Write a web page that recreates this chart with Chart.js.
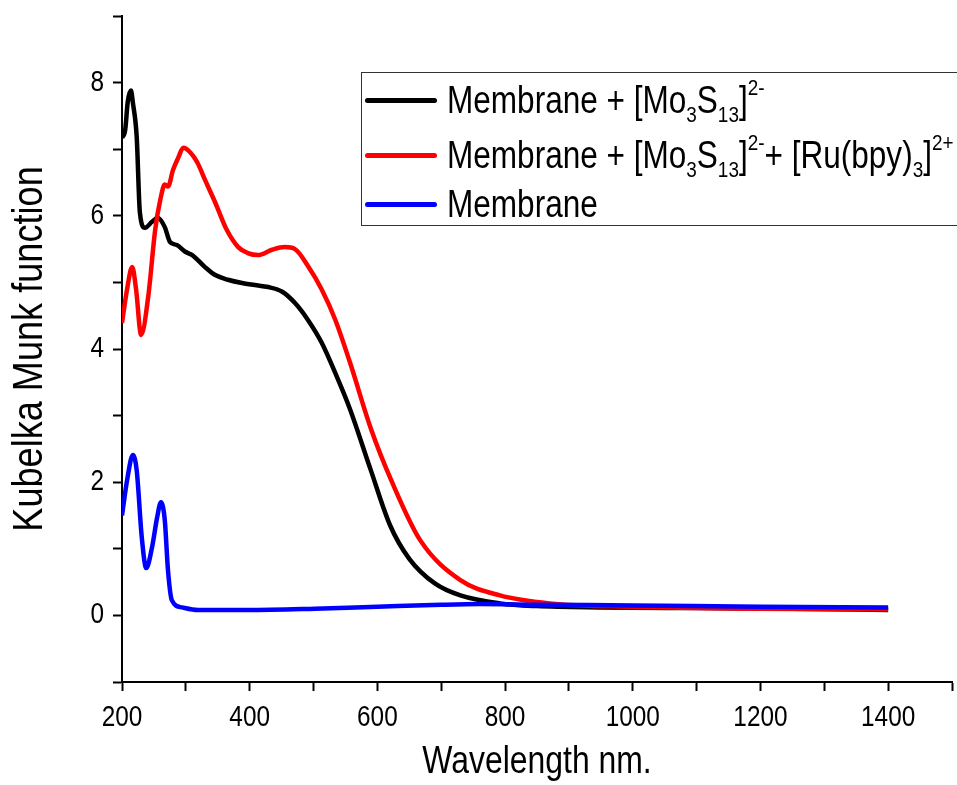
<!DOCTYPE html>
<html>
<head>
<meta charset="utf-8">
<script src="https://cdn.jsdelivr.net/npm/chart.js@4.4.1/dist/chart.umd.min.js"></script>
<style>
  html, body { margin: 0; padding: 0; background: #fff; overflow: hidden; }
  #wrap { position: relative; width: 957px; height: 785px; }
  #legend {
    position: absolute; left: 361px; top: 72px; width: 640px; height: 154px;
    border: 1.5px solid #333; box-sizing: border-box;
    font-family: 'Liberation Sans', Arial, sans-serif;
    font-size: 38px; color: #000;
  }
  .row { position: absolute; left: 0; height: 46px; line-height: 46px; white-space: nowrap; }
  .row .swatch { position: absolute; left: 3px; top: 21px; width: 72px; height: 5px; border-radius: 3px; }
  .row .txt { position: absolute; left: 85px; top: 0; transform: scaleX(0.83); transform-origin: 0 50%; }
  .txt sub { font-size: 60%; vertical-align: -0.38em; line-height: 0; }
  .txt sup { font-size: 60%; vertical-align: 0.8em; line-height: 0; }
</style>
</head>
<body>
<div id="wrap">
  <canvas id="graph" width="957" height="785"></canvas>
  <div id="legend">
    <div class="row" style="top:4px"><span class="swatch" style="background:#000"></span><span class="txt">Membrane + [Mo<sub>3</sub>S<sub>13</sub>]<sup>2-</sup></span></div>
    <div class="row" style="top:59px"><span class="swatch" style="background:#ff0000"></span><span class="txt">Membrane + [Mo<sub>3</sub>S<sub>13</sub>]<sup>2-</sup>+ [Ru(bpy)<sub>3</sub>]<sup>2+</sup></span></div>
    <div class="row" style="top:108px"><span class="swatch" style="background:#0000ff"></span><span class="txt">Membrane</span></div>
  </div>
</div>
<script>
// values (wavelength in nm, Kubelka Munk function)
const moWavelength = [200, 205, 209, 214, 217, 223, 228, 236, 247, 256, 267, 275, 286, 299, 310, 330, 346, 366, 388, 408, 429, 451, 471, 491, 513, 534, 557, 589, 620, 650, 690, 730, 792, 850, 950, 1100, 1250, 1400];
const moKm = [7.17, 7.29, 7.71, 7.88, 7.70, 7.19, 6.05, 5.82, 5.91, 5.97, 5.83, 5.61, 5.56, 5.46, 5.41, 5.23, 5.11, 5.04, 4.99, 4.96, 4.93, 4.86, 4.69, 4.44, 4.09, 3.64, 3.1, 2.2, 1.35, 0.85, 0.48, 0.3, 0.18, 0.14, 0.12, 0.11, 0.10, 0.08];

const moRuWavelength = [200, 208, 216, 222, 230, 241, 252, 260, 267, 272, 280, 288, 296, 307, 318, 330, 346, 364, 382, 397, 413, 435, 455, 471, 491, 513, 534, 557, 590, 623, 667, 730, 792, 870, 1000, 1200, 1400];
const moRuKm = [4.39, 4.9, 5.23, 4.9, 4.21, 4.78, 5.79, 6.24, 6.47, 6.44, 6.69, 6.87, 7.02, 6.95, 6.80, 6.54, 6.2, 5.79, 5.53, 5.44, 5.41, 5.49, 5.53, 5.50, 5.25, 4.89, 4.44, 3.8, 2.8, 2.0, 1.13, 0.53, 0.3, 0.18, 0.13, 0.10, 0.09];

const membraneWavelength = [200, 208, 217, 223, 231, 238, 247, 255, 261, 267, 272, 278, 294, 319, 397, 502, 600, 700, 760, 850, 1000, 1200, 1400];
const membraneKm = [1.5, 2.03, 2.41, 2.18, 1.17, 0.71, 1.02, 1.47, 1.70, 1.43, 0.68, 0.23, 0.12, 0.08, 0.08, 0.10, 0.13, 0.16, 0.17, 0.16, 0.15, 0.13, 0.12];

const xLabels = [200, 400, 600, 800, 1000, 1200, 1400];
const yLabels = [0, 2, 4, 6, 8];

const fontFamily = "'Liberation Sans', Arial, sans-serif";

function toPoints(xs, ys) {
    return xs.map((x, i) => ({ x: x, y: ys[i] }));
}

function lineSet(label, xs, ys, color, order) {
    return {
        label: label,
        data: toPoints(xs, ys),
        borderColor: color,
        backgroundColor: color,
        borderWidth: 4.5,
        pointRadius: 0,
        cubicInterpolationMode: 'monotone',
        fill: false,
        order: order
    };
}

const ctx = document.getElementById('graph').getContext('2d');

// the original uses a condensed face; squeeze canvas text around its anchor
const plainFillText = ctx.fillText.bind(ctx);
ctx.fillText = function(text, x, y, maxWidth) {
    ctx.save();
    ctx.translate(x, y);
    ctx.scale(0.84, 1);
    if (maxWidth !== undefined) {
        plainFillText(text, 0, 0, maxWidth / 0.84);
    } else {
        plainFillText(text, 0, 0);
    }
    ctx.restore();
};

new Chart(ctx, {
    type: 'line',
    data: {
        datasets: [
            lineSet('Membrane + [Mo3S13]2-', moWavelength, moKm, '#000000', 2),
            lineSet('Membrane + [Mo3S13]2- + [Ru(bpy)3]2+', moRuWavelength, moRuKm, '#ff0000', 1),
            lineSet('Membrane', membraneWavelength, membraneKm, '#0000ff', 0)
        ]
    },
    options: {
        responsive: false,
        animation: false,
        layout: { padding: { left: 4, top: 16, right: 5, bottom: 0 } },
        plugins: { legend: { display: false }, tooltip: { enabled: false } },
        scales: {
            x: {
                type: 'linear',
                min: 200,
                max: 1500,
                afterFit: function(scale) {
                    scale.height = 103;
                    scale.paddingLeft = 0;
                    scale.paddingRight = 0;
                },
                ticks: {
                    stepSize: 100,
                    autoSkip: false,
                    maxRotation: 0,
                    color: '#000',
                    padding: 10,
                    font: { family: fontFamily, size: 29 },
                    callback: function(value) { return xLabels.includes(value) ? String(value) : ''; }
                },
                grid: { drawOnChartArea: false, drawTicks: true, tickLength: 9, tickWidth: 2, tickColor: '#000' },
                border: { display: true, color: '#000', width: 2 },
                title: {
                    display: true,
                    text: 'Wavelength nm.',
                    color: '#000',
                    font: { family: fontFamily, size: 38 },
                    padding: { top: 0, bottom: 0 }
                }
            },
            y: {
                min: -1,
                max: 9,
                afterFit: function(scale) {
                    scale.width = 118;
                    scale.paddingTop = 0;
                    scale.paddingBottom = 0;
                },
                ticks: {
                    stepSize: 1,
                    autoSkip: false,
                    color: '#000',
                    padding: 9,
                    font: { family: fontFamily, size: 29 },
                    callback: function(value) { return yLabels.includes(value) ? String(value) : ''; }
                },
                grid: { drawOnChartArea: false, drawTicks: true, tickLength: 9, tickWidth: 2, tickColor: '#000' },
                border: { display: true, color: '#000', width: 2 },
                title: {
                    display: true,
                    text: 'Kubelka Munk function',
                    color: '#000',
                    font: { family: fontFamily, size: 43 },
                    padding: { top: 0, bottom: 0 }
                }
            }
        }
    }
});
</script>
</body>
</html>
